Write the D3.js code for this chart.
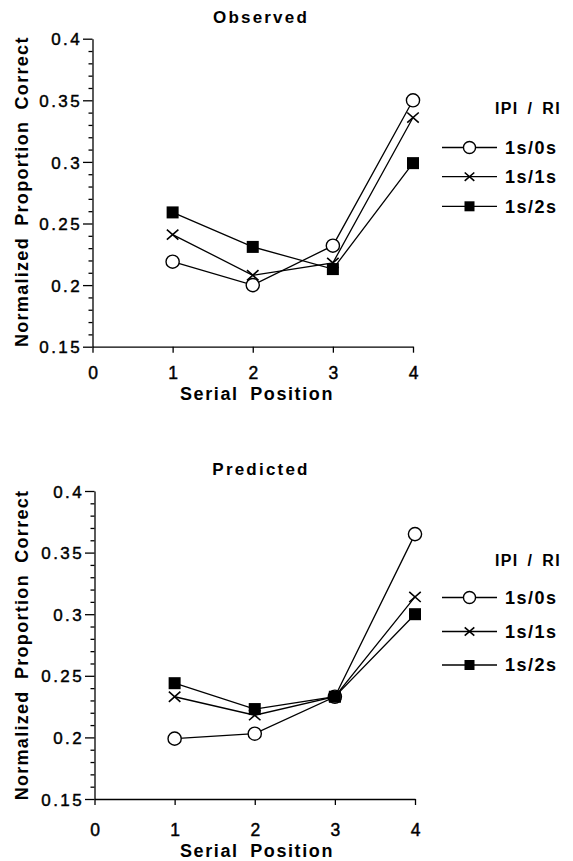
<!DOCTYPE html>
<html>
<head>
<meta charset="utf-8">
<script src="https://cdn.jsdelivr.net/npm/d3@7"></script>
<style>
  html, body { margin: 0; padding: 0; background: #fff; }
  svg { display: block; }
  text { fill: #000; }
</style>
</head>
<body>
<svg id="chart" width="573" height="861"></svg>
<script>
// Serial positions and axis ticks
const serialPositions = [1, 2, 3, 4];
const xTickValues = [0, 1, 2, 3, 4];
const yTickValues = [0.15, 0.2, 0.25, 0.3, 0.35, 0.4];
const yTickLabels = ["0.15", "0.2", "0.25", "0.3", "0.35", "0.4"];

// IPI / RI conditions and their marker shapes
const seriesNames = ["1s/0s", "1s/1s", "1s/2s"];
const seriesShapes = ["circle", "cross", "square"];

// Observed normalized proportion correct
const observed0s = [0.219, 0.200, 0.232, 0.350];
const observed1s = [0.241, 0.208, 0.218, 0.336];
const observed2s = [0.259, 0.231, 0.213, 0.299];

// Model predictions
const predicted0s = [0.199, 0.203, 0.233, 0.365];
const predicted1s = [0.233, 0.218, 0.233, 0.314];
const predicted2s = [0.244, 0.223, 0.233, 0.300];

const FONT = "'Liberation Sans', Arial, Helvetica, sans-serif";

// Layout of the two stacked panels
const panels = [
  {
    title: "Observed", series: [observed0s, observed1s, observed2s],
    left: 92.5, right: 413, top: 38.7, bottom: 346.7,
    titleY: 22.5, xTickPad: 14.3, xTitleY: 400, yTitleCy: 191.7,
    legendHeaderY: 114, legendRowY: [147.5, 176.7, 206.3]
  },
  {
    title: "Predicted", series: [predicted0s, predicted1s, predicted2s],
    left: 94.5, right: 415, top: 491, bottom: 799,
    titleY: 475, xTickPad: 18.3, xTitleY: 857, yTitleCy: 645,
    legendHeaderY: 566, legendRowY: [597.5, 631.5, 665]
  }
];

const svg = d3.select("#chart");

function drawMarker(g, shape, cx, cy, s) {
  if (shape === "circle") {
    g.append("circle").attr("cx", cx).attr("cy", cy).attr("r", s * 0.55)
      .attr("fill", "#fff").attr("stroke", "#000").attr("stroke-width", 1.4);
  } else if (shape === "square") {
    const h = s * 0.5;
    g.append("rect").attr("x", cx - h).attr("y", cy - h)
      .attr("width", 2 * h).attr("height", 2 * h).attr("fill", "#000");
  } else {
    const h = s * 0.48, v = s * 0.42;
    g.append("path")
      .attr("d", `M${cx - h},${cy - v}L${cx + h},${cy + v}M${cx - h},${cy + v}L${cx + h},${cy - v}`)
      .attr("stroke", "#000").attr("stroke-width", 1.6).attr("fill", "none");
  }
}

panels.forEach(p => {
  const x = d3.scaleLinear().domain([0, 4]).range([p.left, p.right]);
  const y = d3.scaleLinear().domain([0.15, 0.4]).range([p.bottom, p.top]);
  const g = svg.append("g");

  // Y axis: major ticks with labels, then minor ticks every 0.01
  const yAxis = g.append("g").attr("transform", `translate(${p.left},0)`)
    .call(d3.axisLeft(y).tickValues(yTickValues)
      .tickFormat((d, i) => yTickLabels[i])
      .tickSize(9.5).tickSizeOuter(0).tickPadding(1));
  yAxis.selectAll("text").attr("font-family", FONT).attr("font-size", 17)
    .attr("letter-spacing", 2.4).attr("dy", "0.36em")
    .attr("stroke", "#000").attr("stroke-width", 0.45);

  const minorTicks = d3.range(0.16, 0.4, 0.01).filter(v => Math.abs(v * 20 - Math.round(v * 20)) > 1e-6);
  g.append("g").attr("transform", `translate(${p.left},0)`)
    .call(d3.axisLeft(y).tickValues(minorTicks).tickFormat("").tickSize(4).tickSizeOuter(0))
    .select(".domain").remove();

  // X axis
  const xAxis = g.append("g").attr("transform", `translate(0,${p.bottom})`)
    .call(d3.axisBottom(x).tickValues(xTickValues).tickFormat(d3.format("d"))
      .tickSize(6).tickSizeOuter(0).tickPadding(p.xTickPad));
  xAxis.selectAll("text").attr("font-family", FONT).attr("font-size", 17.5)
    .attr("stroke", "#000").attr("stroke-width", 0.45);

  g.selectAll(".domain, .tick line").attr("stroke", "#000").attr("stroke-width", 1.3);

  // Titles
  g.append("text").attr("x", 261).attr("y", p.titleY).attr("text-anchor", "middle")
    .attr("font-family", FONT).attr("font-weight", "bold").attr("font-size", 17)
    .attr("letter-spacing", 2.2).text(p.title);

  g.append("text").attr("x", 257).attr("y", p.xTitleY).attr("text-anchor", "middle")
    .attr("font-family", FONT).attr("font-weight", "bold").attr("font-size", 18)
    .attr("letter-spacing", 1.6).attr("word-spacing", 5).text("Serial Position");

  g.append("text").attr("transform", `translate(28,${p.yTitleCy}) rotate(-90)`)
    .attr("text-anchor", "middle")
    .attr("font-family", FONT).attr("font-weight", "bold").attr("font-size", 18)
    .attr("letter-spacing", 1.3).attr("word-spacing", 5)
    .text("Normalized Proportion Correct");

  // Connecting lines first, markers on top
  const line = d3.line().x((d, i) => x(serialPositions[i])).y(d => y(d));
  p.series.forEach(vals => {
    g.append("path").datum(vals).attr("d", line)
      .attr("fill", "none").attr("stroke", "#000").attr("stroke-width", 1.3);
  });
  p.series.forEach((vals, k) => {
    vals.forEach((v, i) => drawMarker(g, seriesShapes[k], x(serialPositions[i]), y(v), 12));
  });

  // Legend
  g.append("text").attr("x", 561).attr("y", p.legendHeaderY).attr("text-anchor", "end")
    .attr("font-family", FONT).attr("font-weight", "bold").attr("font-size", 16)
    .attr("letter-spacing", 1.4).attr("word-spacing", 3).text("IPI / RI");

  seriesNames.forEach((name, k) => {
    const ry = p.legendRowY[k];
    g.append("line").attr("x1", 442).attr("x2", 497).attr("y1", ry).attr("y2", ry)
      .attr("stroke", "#000").attr("stroke-width", 1.3);
    drawMarker(g, seriesShapes[k], 469.5, ry, k === 0 ? 11 : 10);
    g.append("text").attr("x", 505).attr("y", ry + 6.4)
      .attr("font-family", FONT).attr("font-weight", "bold").attr("font-size", 18)
      .attr("letter-spacing", 1.5).text(name);
  });
});
</script>
</body>
</html>
